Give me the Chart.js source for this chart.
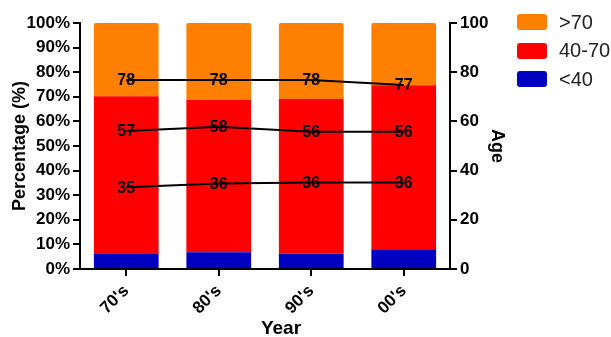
<!DOCTYPE html>
<html>
<head>
<meta charset="utf-8">
<script src="https://cdn.jsdelivr.net/npm/chart.js@4"></script>
<style>
  html, body { margin: 0; padding: 0; background: #fff; }
  #wrap { position: relative; width: 611px; height: 337px; }
  #legend { position: absolute; left: 517px; top: 8px; font-family: Arial, "Liberation Sans", sans-serif; font-size: 20px; color: #222; }
  .item { display: flex; align-items: center; height: 28.5px; }
  .box { width: 30px; height: 16px; border-radius: 3px; margin-right: 12px; }
</style>
</head>
<body>
<div id="wrap">
  <canvas id="c" width="611" height="337"></canvas>
  <div id="legend"></div>
</div>
<script>
// Data
const decades = ["70's", "80's", "90's", "00's"];
const pctUnder40 = [6.1, 6.8, 6.2, 8.0];
const pct40to70 = [64.1, 61.9, 62.9, 66.7];
const pctOver70 = [29.8, 31.3, 30.9, 25.3];

// age lines (plotted position) + printed labels
const ageHigh = [76.8, 76.8, 76.8, 74.8];
const ageMid = [56.1, 57.8, 55.8, 55.8];
const ageLow = [33.2, 34.8, 35.2, 35.2];
const ageHighText = ["78", "78", "78", "77"];
const ageMidText = ["57", "58", "56", "56"];
const ageLowText = ["35", "36", "36", "36"];

const FONT = "Arial, 'Liberation Sans', sans-serif";
const ORANGE = "#FF8000", RED = "#FF0000", BLUE = "#0000BF";

// Legend (html)
const legendItems = [[">70", ORANGE], ["40-70", RED], ["<40", BLUE]];
const legendEl = document.getElementById("legend");
legendItems.forEach(([txt, col]) => {
  const row = document.createElement("div");
  row.className = "item";
  row.innerHTML = `<span class="box" style="background:${col}"></span><span>${txt}</span>`;
  legendEl.appendChild(row);
});

// point labels on the age lines + x title (sits a bit right of centre in the original)
const extraText = {
  id: "extraText",
  afterDatasetsDraw(chart) {
    const ctx = chart.ctx;
    ctx.save();
    ctx.font = "bold 16px " + FONT;
    ctx.fillStyle = "#000";
    ctx.textAlign = "center";
    ctx.textBaseline = "middle";
    chart.data.datasets.forEach((ds, i) => {
      if (!ds.pointText) return;
      chart.getDatasetMeta(i).data.forEach((pt, j) => {
        ctx.fillText(ds.pointText[j], pt.x, pt.y + 1);
      });
    });
    const ca = chart.chartArea;
    ctx.font = "bold 19px " + FONT;
    ctx.fillText("Year", (ca.left + ca.right) / 2 + 16, 329);
    ctx.restore();
  }
};

const lineDs = (data, txt) => ({
  type: "line",
  data: data,
  pointText: txt,
  yAxisID: "y2",
  borderColor: "#000",
  borderWidth: 2,
  pointRadius: 0,
  tension: 0,
  fill: false
});

const barDs = (label, data, col) => ({
  type: "bar",
  label: label,
  data: data,
  backgroundColor: col,
  yAxisID: "y",
  categoryPercentage: 0.7,
  barPercentage: 1,
  borderRadius: 2,
  borderSkipped: "bottom"
});

new Chart(document.getElementById("c"), {
  data: {
    labels: decades,
    datasets: [
      lineDs(ageHigh, ageHighText),
      lineDs(ageMid, ageMidText),
      lineDs(ageLow, ageLowText),
      barDs("<40", pctUnder40, BLUE),
      barDs("40-70", pct40to70, RED),
      barDs(">70", pctOver70, ORANGE)
    ]
  },
  options: {
    responsive: false,
    animation: false,
    layout: { padding: { left: 0, right: 103, top: 23, bottom: 0 } },
    plugins: { legend: { display: false }, tooltip: { enabled: false } },
    scales: {
      x: {
        stacked: true,
        offset: true,
        grid: { offset: false, drawOnChartArea: false, color: "#000", lineWidth: 2, tickLength: 7 },
        border: { color: "#000", width: 2 },
        ticks: { color: "#000", font: { family: FONT, size: 17, weight: "bold" }, minRotation: 45, maxRotation: 45, padding: 5 },
        afterFit: (s) => { s.height = 68; }
      },
      y: {
        stacked: true,
        position: "left",
        min: 0, max: 100,
        grid: { drawOnChartArea: false, color: "#000", lineWidth: 2, tickLength: 7 },
        border: { color: "#000", width: 2 },
        ticks: { stepSize: 10, color: "#000", padding: 3, font: { family: FONT, size: 17, weight: "bold" }, callback: (v) => v + "%" },
        title: { display: true, text: "Percentage (%)", color: "#000", font: { family: FONT, size: 18, weight: "bold" }, padding: { top: 9, bottom: 0 } },
        afterFit: (s) => { s.width = 80; }
      },
      y2: {
        position: "right",
        min: 0, max: 100,
        grid: { drawOnChartArea: false, color: "#000", lineWidth: 2, tickLength: 7 },
        border: { color: "#000", width: 2 },
        ticks: { stepSize: 20, color: "#000", padding: 3, font: { family: FONT, size: 17, weight: "bold" } },
        title: { display: true, text: "Age", color: "#000", font: { family: FONT, size: 18, weight: "bold" }, padding: 0 },
        afterFit: (s) => { s.width = 58; }
      }
    }
  },
  plugins: [extraText]
});
</script>
</body>
</html>
